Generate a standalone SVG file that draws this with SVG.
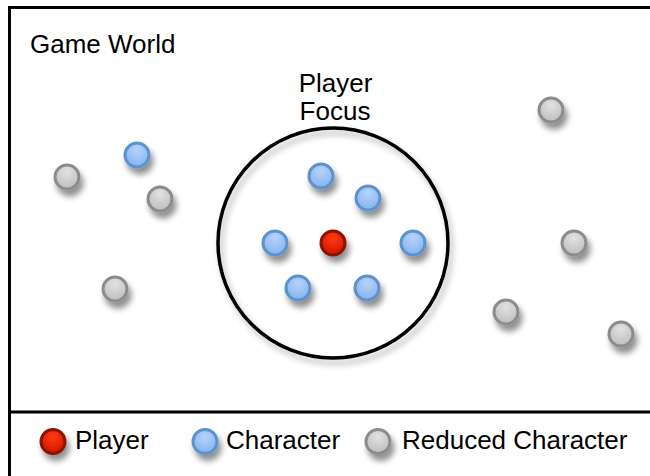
<svg xmlns="http://www.w3.org/2000/svg" width="650" height="476" viewBox="0 0 650 476">
<style>
text{font-family:"Liberation Sans",Arial,sans-serif;fill:#000;font-size:26px}
.blue{fill:url(#gb);stroke:#5b93cc;stroke-width:3}
.red{fill:url(#gr);stroke:#8a1200;stroke-width:3}
.gray{fill:url(#gg);stroke:#8c8c8c;stroke-width:3}
</style>
<defs>
<radialGradient id="gb" cx="0.5" cy="0.3" r="0.7"><stop offset="0" stop-color="#b6d3fb"/><stop offset="1" stop-color="#86b2ee"/></radialGradient>
<radialGradient id="gr" cx="0.5" cy="0.3" r="0.7"><stop offset="0" stop-color="#ff3a10"/><stop offset="1" stop-color="#d01500"/></radialGradient>
<radialGradient id="gg" cx="0.5" cy="0.3" r="0.7"><stop offset="0" stop-color="#e2e2e2"/><stop offset="1" stop-color="#bdbdbd"/></radialGradient>
<filter id="sh" x="-50%" y="-50%" width="220%" height="220%">
<feGaussianBlur in="SourceAlpha" stdDeviation="3"/>
<feOffset dx="3" dy="6" result="b"/>
<feComponentTransfer><feFuncA type="linear" slope="0.45"/></feComponentTransfer>
<feMerge><feMergeNode/><feMergeNode in="SourceGraphic"/></feMerge>
</filter>
<filter id="shc" x="-20%" y="-20%" width="140%" height="140%">
<feGaussianBlur in="SourceAlpha" stdDeviation="3"/>
<feOffset dx="3" dy="5"/>
<feComponentTransfer><feFuncA type="linear" slope="0.3"/></feComponentTransfer>
<feMerge><feMergeNode/><feMergeNode in="SourceGraphic"/></feMerge>
</filter>
</defs>
<rect x="9.5" y="7.5" width="650" height="480" fill="#fff" stroke="#000" stroke-width="3"/>
<line x1="9.5" y1="412" x2="650" y2="412" stroke="#000" stroke-width="3"/>
<text x="30" y="53">Game World</text>
<g id="focus">
<circle cx="333" cy="243" r="115" fill="none" stroke="#000" stroke-width="3.5" filter="url(#shc)"/>
<text x="335.5" y="92" text-anchor="middle">Player</text>
<text x="335" y="120" text-anchor="middle">Focus</text>
</g>
<g id="player"><circle class="red" cx="333" cy="243" r="12" filter="url(#sh)"/></g>
<g id="characters" filter="url(#sh)">
<circle class="blue" cx="137" cy="155" r="12"/>
<circle class="blue" cx="321" cy="176" r="12"/>
<circle class="blue" cx="368" cy="198" r="12"/>
<circle class="blue" cx="275" cy="243" r="12"/>
<circle class="blue" cx="413" cy="243" r="12"/>
<circle class="blue" cx="298" cy="288" r="12"/>
<circle class="blue" cx="367" cy="288" r="12"/>
</g>
<g id="reduced" filter="url(#sh)">
<circle class="gray" cx="67" cy="177" r="12"/>
<circle class="gray" cx="160" cy="199" r="12"/>
<circle class="gray" cx="115" cy="289" r="12"/>
<circle class="gray" cx="551" cy="110" r="12"/>
<circle class="gray" cx="574" cy="243" r="12"/>
<circle class="gray" cx="506" cy="312" r="12"/>
<circle class="gray" cx="621" cy="334" r="12"/>
</g>
<g id="legend">
<circle class="red" cx="53" cy="441.5" r="12" filter="url(#sh)"/>
<text x="75" y="449">Player</text>
<circle class="blue" cx="205" cy="441.5" r="12" filter="url(#sh)"/>
<text x="226" y="449">Character</text>
<circle class="gray" cx="378" cy="441.5" r="12" filter="url(#sh)"/>
<text x="402" y="449">Reduced Character</text>
</g>
</svg>
